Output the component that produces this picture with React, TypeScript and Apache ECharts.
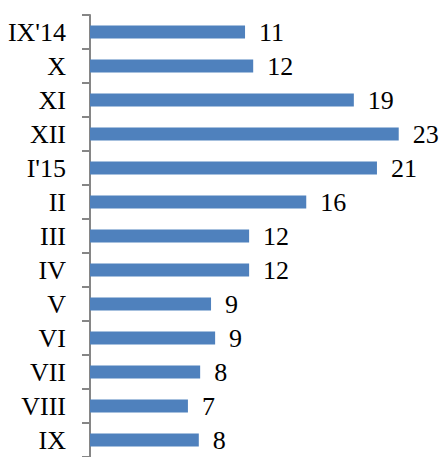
import React, { useEffect, useRef } from "react";
import * as echarts from "echarts";

const categories = ["IX'14", "X", "XI", "XII", "I'15", "II", "III", "IV", "V", "VI", "VII", "VIII", "IX"];
const values = [11.4, 12.0, 19.4, 22.7, 21.1, 15.9, 11.7, 11.7, 8.9, 9.2, 8.1, 7.2, 8.0];

const FONT = "Liberation Serif";

export default function App() {
  const ref = useRef<HTMLDivElement>(null);
  useEffect(() => {
    document.body.style.margin = "0";
    const chart = echarts.init(ref.current!, null, { renderer: "svg" });
    chart.setOption({
      animation: false,
      backgroundColor: "#ffffff",
      grid: { left: 90, top: 15, width: 340, height: 448.5, containLabel: false },
      xAxis: {
        type: "value",
        min: 0,
        max: 25,
        show: false,
        splitLine: { show: false },
      },
      yAxis: {
        type: "category",
        inverse: true,
        data: categories,
        axisLine: { show: true, lineStyle: { color: "#868686", width: 2 } },
        axisTick: { show: true, length: 8, lineStyle: { color: "#868686", width: 2 } },
        axisLabel: { margin: 24, fontSize: 26, color: "#000", fontFamily: FONT },
      },
      series: [
        {
          type: "bar",
          data: values,
          barWidth: 13,
          itemStyle: { color: "#4F81BD" },
          label: {
            show: true,
            position: "right",
            distance: 14,
            fontSize: 26,
            color: "#000",
            fontFamily: FONT,
            formatter: (p: any) => String(Math.round(p.value)),
          },
        },
      ],
    });
    return () => chart.dispose();
  }, []);
  return <div ref={ref} style={{ width: 442, height: 457 }} />;
}
